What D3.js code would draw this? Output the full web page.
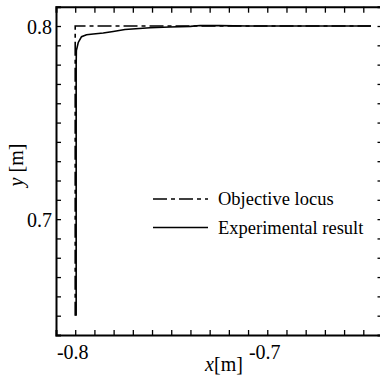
<!DOCTYPE html>
<html>
<head>
<meta charset="utf-8">
<script src="https://cdn.jsdelivr.net/npm/d3@7"></script>
<style>
  body { margin: 0; background: #fff; }
  svg { display: block; font-family: "Liberation Serif", "Times New Roman", serif; }
</style>
</head>
<body>
<svg id="chart" width="380" height="375"></svg>
<script>
// objective locus (corner path)
const objX = [-0.8, -0.8, -0.646];
const objY = [0.65, 0.8, 0.8];

const expX = [-0.7995, -0.7995, -0.7994, -0.7984, -0.7967, -0.7941, -0.7906, -0.7854, -0.7802, -0.7741, -0.761, -0.7507, -0.740, -0.735, -0.725, -0.71, -0.646];
const expY = [0.65, 0.78, 0.7873, 0.7915, 0.7945, 0.7955, 0.7959, 0.7964, 0.7972, 0.7982, 0.7991, 0.7995, 0.7998, 0.8003, 0.8002, 0.8, 0.8];

const xTickLabels = [-0.8, -0.7];
const yTickLabels = [0.7, 0.8];

const legendNames = ['Objective locus', 'Experimental result'];

const margin = { left: 56, right: 382.5, top: 6.7, bottom: 335 };

const svg = d3.select('#chart');

const x = d3.scaleLinear().domain([-0.81, -0.64]).range([margin.left, margin.right]);
const y = d3.scaleLinear().domain([0.64, 0.81]).range([margin.bottom, margin.top]);

const xMinor = d3.range(-0.80, -0.645, 0.01);
const yMinor = d3.range(0.65, 0.805, 0.01);

// axes, ticks pointing inward
const fmtX = d => (xTickLabels.includes(+d.toFixed(2)) ? d3.format('.1f')(d).replace('−', '-') : '');
const fmtY = d => (yTickLabels.includes(+d.toFixed(2)) ? d3.format('.1f')(d) : '');

const axBottom = svg.append('g')
  .attr('transform', `translate(0,${margin.bottom})`)
  .call(d3.axisBottom(x).tickValues(xMinor).tickSize(-5).tickPadding(10).tickFormat(fmtX));
const axTop = svg.append('g')
  .attr('transform', `translate(0,${margin.top})`)
  .call(d3.axisTop(x).tickValues(xMinor).tickSize(-6).tickFormat(''));
const axLeft = svg.append('g')
  .attr('transform', `translate(${margin.left},0)`)
  .call(d3.axisLeft(y).tickValues(yMinor).tickSize(-5).tickPadding(4).tickFormat(fmtY));
const axRight = svg.append('g')
  .attr('transform', `translate(${margin.right},0)`)
  .call(d3.axisRight(y).tickValues(yMinor).tickSize(-5).tickFormat(''));

[axBottom, axTop, axLeft, axRight].forEach(g => {
  g.attr('font-family', null).attr('font-size', null);
  g.select('.domain').attr('stroke', '#000').attr('stroke-width', 2);
  g.selectAll('.tick line').attr('stroke', '#000').attr('stroke-width', 1.3);
  g.selectAll('text')
    .attr('font-family', '"Liberation Serif", "Times New Roman", serif')
    .attr('font-size', 20)
    .attr('fill', '#000');
});
axBottom.selectAll('text').attr('dy', '0.71em').attr('dx', -3);
axLeft.selectAll('text').attr('dy', '0.36em');

// lines
const line = d3.line().x(d => x(d[0])).y(d => y(d[1]));
const objData = objX.map((v, i) => [v, objY[i]]);
const expData = expX.map((v, i) => [v, expY[i]]);

svg.append('path').datum(objData)
  .attr('d', line).attr('fill', 'none').attr('stroke', '#000')
  .attr('stroke-width', 1.6).attr('stroke-dasharray', '14,4,4,4');
svg.append('path').datum(expData)
  .attr('d', line).attr('fill', 'none').attr('stroke', '#000')
  .attr('stroke-width', 1.6);

// legend
const legend = svg.append('g');
legendNames.forEach((name, i) => {
  const ly = 199 + i * 28.5;
  legend.append('line')
    .attr('x1', 153).attr('x2', 208).attr('y1', ly).attr('y2', ly)
    .attr('stroke', '#000').attr('stroke-width', 1.6)
    .attr('stroke-dasharray', i === 0 ? '14,4,4,4' : null);
  legend.append('text')
    .attr('x', 218).attr('y', ly + 6)
    .attr('font-size', 18.5).text(name);
});

// axis titles
const xt = svg.append('text').attr('x', 224).attr('y', 371).attr('text-anchor', 'middle').attr('font-size', 20);
xt.append('tspan').attr('font-style', 'italic').text('x');
xt.append('tspan').text('[m]');

const yt = svg.append('text')
  .attr('transform', 'translate(23,165) rotate(-90)')
  .attr('text-anchor', 'middle').attr('font-size', 20);
yt.append('tspan').attr('font-style', 'italic').text('y');
yt.append('tspan').text(' [m]');
</script>
</body>
</html>
